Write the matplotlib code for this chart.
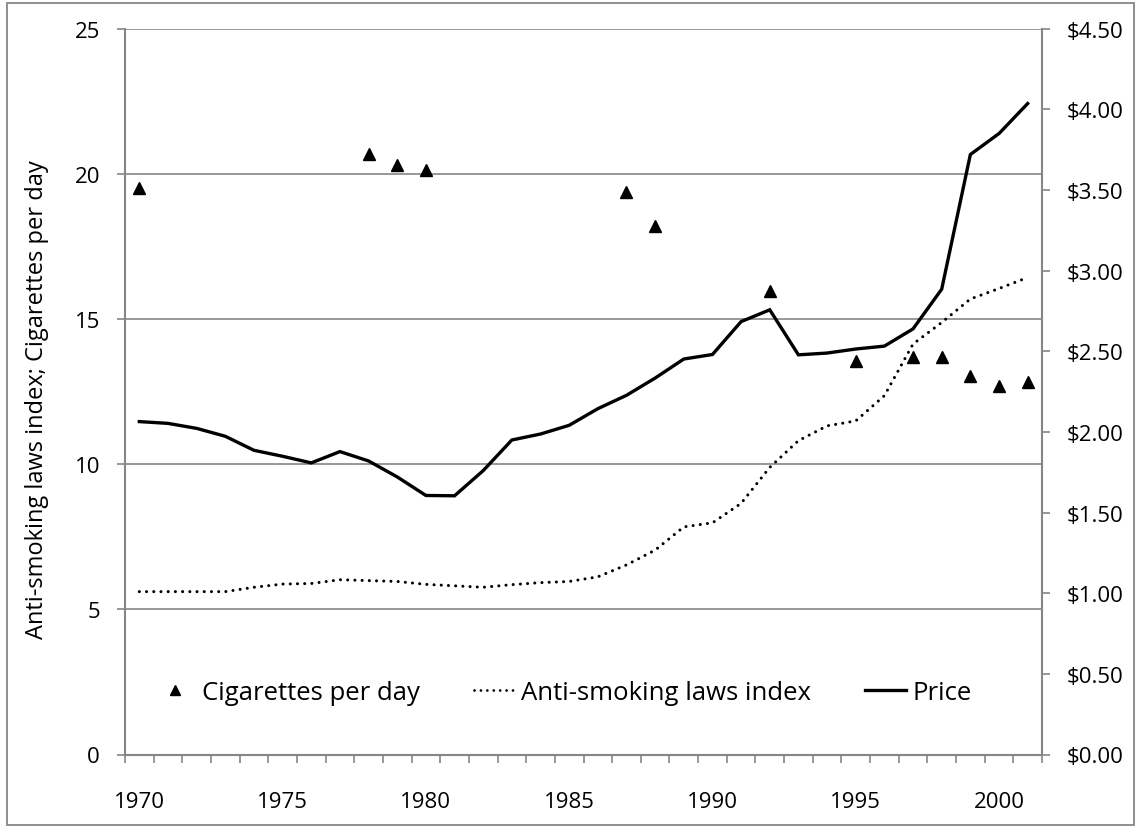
import numpy as np
import matplotlib
matplotlib.use("Agg")
import matplotlib.pyplot as plt
from matplotlib.lines import Line2D
from matplotlib.patches import Rectangle
from matplotlib.ticker import FuncFormatter

plt.rcParams['font.family'] = ['Open Sans', 'DejaVu Sans']

# data
years = list(range(1970, 2002))

cig_years = [1970, 1978, 1979, 1980, 1987, 1988, 1992, 1995, 1997, 1998, 1999, 2000, 2001]
cig_per_day = [19.53, 20.68, 20.32, 20.13, 19.37, 18.20, 15.97, 13.56, 13.68, 13.68, 13.04, 12.68, 12.82]

laws_index = [5.61, 5.61, 5.61, 5.61, 5.76, 5.87, 5.89, 6.02, 5.99, 5.96,
              5.86, 5.81, 5.76, 5.85, 5.92, 5.96, 6.12, 6.53, 7.04, 7.84,
              7.98, 8.65, 9.89, 10.81, 11.32, 11.49, 12.36, 14.14, 14.88, 15.69,
              16.05, 16.43]

price = [2.064, 2.053, 2.022, 1.973, 1.886, 1.849, 1.808, 1.878, 1.820, 1.721,
         1.606, 1.604, 1.760, 1.950, 1.987, 2.041, 2.144, 2.227, 2.334, 2.452,
         2.480, 2.684, 2.757, 2.478, 2.489, 2.514, 2.532, 2.639, 2.885, 3.720,
         3.850, 4.036]

left_ticks = [0, 5, 10, 15, 20, 25]
right_ticks = [0, 0.5, 1.0, 1.5, 2.0, 2.5, 3.0, 3.5, 4.0, 4.5]
year_labels = [1970, 1975, 1980, 1985, 1990, 1995, 2000]

grey = '#868686'
fs_tick = 16
fs_label = 17
fs_leg = 18.5

W, H = 1141, 829
fig = plt.figure(figsize=(W / 100, H / 100), dpi=100)
ax = fig.add_axes([125 / W, (H - 755.5) / H, (1042 - 125) / W, (755.5 - 29.7) / H])
ax2 = ax.twinx()

# outer chart border
fig.patches.append(Rectangle((6.5 / W, 3 / H), (1134 - 6.5) / W, (825 - 3) / H,
                             transform=fig.transFigure, fill=False,
                             edgecolor=grey, lw=1.3))

# series
ax.plot(cig_years, cig_per_day, linestyle='none', marker='^', ms=8.5,
        color='black', zorder=3)
ax.plot(years, laws_index, color='black', lw=2.2, linestyle=(0, (0.01, 2.35)),
        dash_capstyle='round', zorder=3)
ax2.plot(years, price, color='black', lw=2.4, solid_joinstyle='miter', zorder=3)

# left axis
ax.set_xlim(1969.5, 2001.5)
ax.set_ylim(0, 25)
ax.set_yticks(left_ticks)
ax.yaxis.grid(True, color=grey, lw=1.2)
ax.set_axisbelow(True)
ax.tick_params(axis='y', direction='out', length=6, width=1.2, color=grey,
               pad=12, labelsize=fs_tick)
ax.set_ylabel('Anti-smoking laws index; Cigarettes per day', fontsize=fs_label)
ax.yaxis.set_label_coords(-0.083, 0.49)

# x axis: ticks between categories, labels every 5 years
ax.set_xticks(year_labels)
ax.set_xticks(np.arange(1969.5, 2002, 1), minor=True)
ax.tick_params(axis='x', which='major', length=0, pad=26, labelsize=fs_tick)
ax.tick_params(axis='x', which='minor', direction='out', length=5.5, width=1.2,
               color=grey)

# right axis
ax2.set_ylim(0, 4.5)
ax2.set_yticks(right_ticks)
ax2.yaxis.set_major_formatter(FuncFormatter(lambda v, p: '${:.2f}'.format(v)))
ax2.tick_params(axis='y', direction='out', length=6, width=1.2, color=grey,
                pad=12, labelsize=fs_tick)

for a in (ax, ax2):
    for s in a.spines.values():
        s.set_visible(False)
ax.spines['left'].set_visible(True)
ax.spines['bottom'].set_visible(True)
ax2.spines['right'].set_visible(True)
for s in (ax.spines['left'], ax.spines['bottom'], ax2.spines['right']):
    s.set_color(grey)
    s.set_linewidth(1.5)

# legend
handles = [
    Line2D([], [], linestyle='none', marker='^', ms=7, color='black'),
    Line2D([], [], color='black', lw=2.0, linestyle=(0, (0.01, 2.3)),
           dash_capstyle='round'),
    Line2D([], [], color='black', lw=2.4),
]
labels = ['Cigarettes per day', 'Anti-smoking laws index', 'Price']
ax.legend(handles, labels, ncol=3, loc='center', bbox_to_anchor=(0.478, 0.086),
          frameon=False, fontsize=fs_leg, handlelength=1.6, handletextpad=0.25,
          columnspacing=2.1)

fig.savefig('out.png', dpi=100)
